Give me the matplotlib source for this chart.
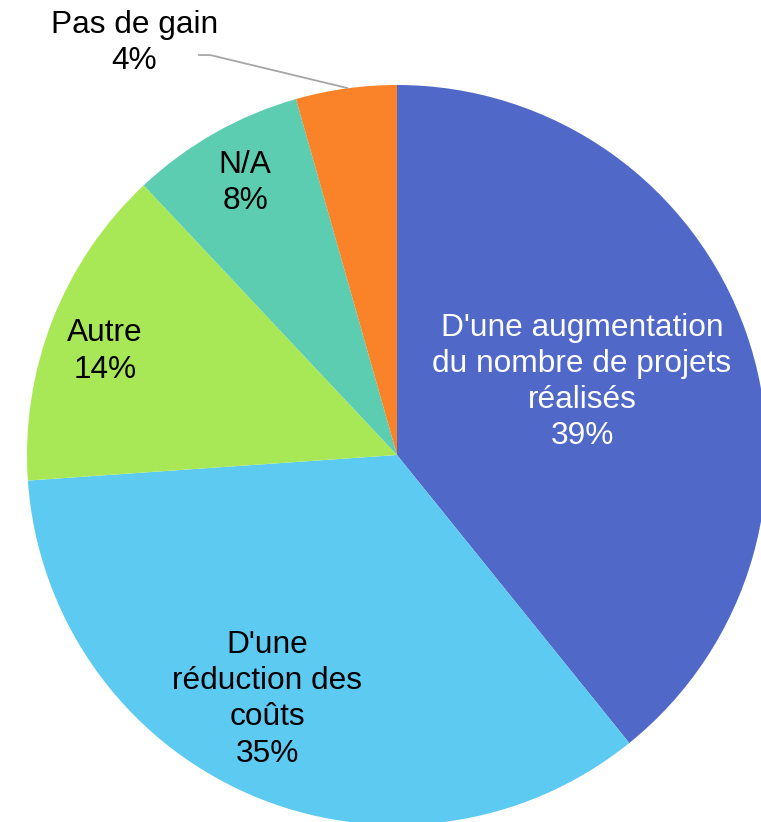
import matplotlib.pyplot as plt

plt.rcParams['font.family'] = ['Liberation Sans', 'DejaVu Sans']

labels = ["D'une augmentation\ndu nombre de projets\nréalisés", "D'une\nréduction des\ncoûts", "Autre", "N/A", "Pas de gain"]
values = [39.2, 34.7, 14.1, 7.6, 4.4]
colors = ["#5068C8", "#5DCAF2", "#A8E857", "#5DCDB1", "#FA8228"]
text_colors = ["white", "black", "black", "black", "black"]

# label centres in data units (pie radius = 1)
label_pos = [(0.50, 0.197), (-0.35, -0.66), (-0.79, 0.28), (-0.41, 0.735), (-0.71, 1.113)]

W, H = 761, 822
CX, CY, R = 397, 455, 370

fig = plt.figure(figsize=(W / 100, H / 100), dpi=100)
ax = fig.add_axes([0, 0, 1, 1])
ax.pie(values, colors=colors, startangle=90, counterclock=False, radius=1,
       wedgeprops={'linewidth': 0})
ax.set_xlim(-CX / R, (W - CX) / R)
ax.set_ylim(-(H - CY) / R, CY / R)
ax.set_aspect('equal')
ax.axis('off')

for lab, v, (x, y), c in zip(labels, values, label_pos, text_colors):
    ax.text(x, y, "%s\n%.0f%%" % (lab, v), ha='center', va='center', fontsize=22.8,
            color=c, linespacing=1.27)

# leader line for the small slice
ax.plot([-0.535, -0.505, -0.135], [1.081, 1.081, 0.992], color="#A6A6A6", lw=1.3,
        clip_on=False)

plt.savefig("out.png", dpi=100)
